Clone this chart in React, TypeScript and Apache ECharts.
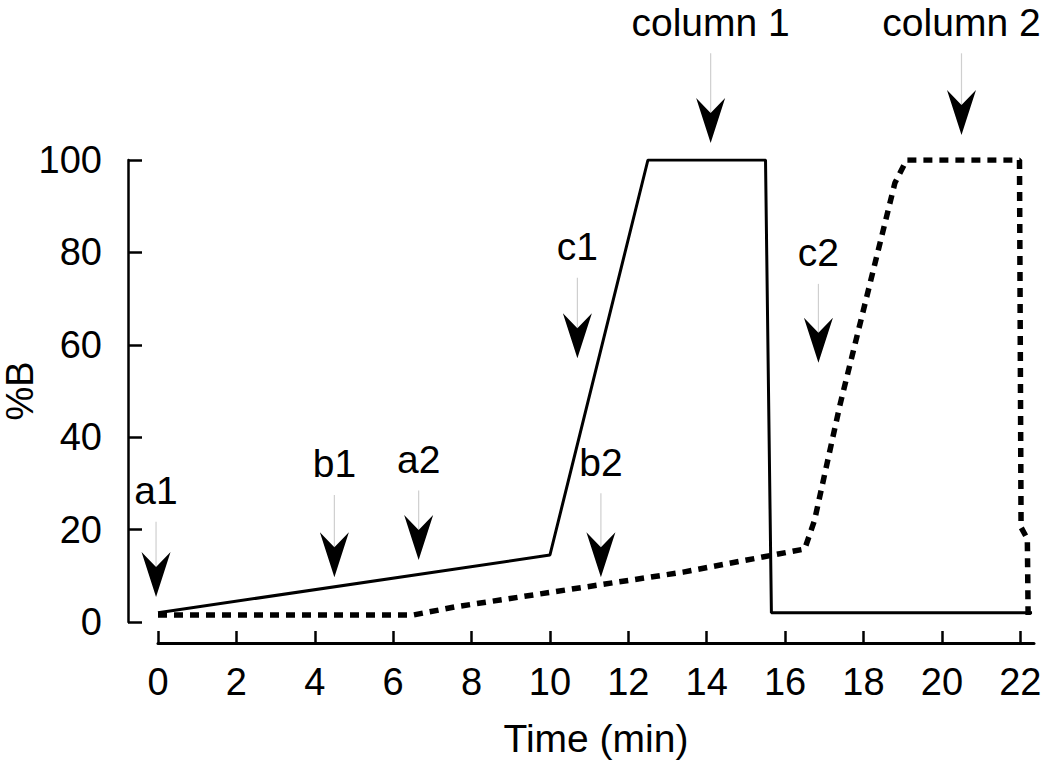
import React, { useEffect, useRef } from "react";
import * as echarts from "echarts";

// Gradient programs (time in min, %B)
const column1Time = [0, 10, 12.5, 15.5, 15.65, 22.3];
const column1B = [2, 14.5, 100, 100, 2, 2];

const column2Time = [0, 6.5, 7.6, 13.4, 16.5, 16.75, 17.4, 18.8, 19.1, 21.98, 22.02, 22.18, 22.2];
const column2B = [1.5, 1.5, 3.3, 10.8, 15.8, 22, 47, 95, 100, 100, 20.5, 18, 1.5];

// Annotations (arrow tip position and label height in data units)
const annotLabels = ["a1", "b1", "a2", "b2", "c1", "c2", "column 1", "column 2"];
const annotTime = [-0.05, 4.5, 6.65, 11.3, 10.7, 16.85, 14.1, 20.5];
const annotTipB = [5.4, 9.7, 13.4, 9.7, 57.1, 56.1, 103.7, 105.4];
const annotLabelB = [28.4, 34.2, 35.2, 34.6, 81.2, 79.9, 129.8, 129.8];

const xTicks = [0, 2, 4, 6, 8, 10, 12, 14, 16, 18, 20, 22];

const FONT = '"Liberation Sans", Arial, sans-serif';

export default function App() {
  const ref = useRef<HTMLDivElement>(null);
  useEffect(() => {
    if (!ref.current) return;
    const chart = echarts.init(ref.current, undefined, { renderer: "svg" });
    const col1 = column1Time.map((t, i) => [t, column1B[i]]);
    const col2 = column2Time.map((t, i) => [t, column2B[i]]);
    const annots = annotTime.map((t, i) => [t, annotTipB[i], annotLabelB[i]]);
    chart.setOption({
      animation: false,
      backgroundColor: "#fff",
      grid: { left: 158, right: 16, top: 160, bottom: 143, containLabel: false, outerBoundsMode: "none" },
      xAxis: {
        type: "value",
        min: 0,
        max: 22.35,
        offset: 21,
        name: "Time (min)",
        nameLocation: "middle",
        nameGap: 76,
        nameTextStyle: { fontSize: 39, fontFamily: FONT, color: "#000" },
        axisLine: { show: true, onZero: false, lineStyle: { color: "#000", width: 3 } },
        axisTick: { show: true, inside: true, length: 12, customValues: xTicks, lineStyle: { color: "#000", width: 2.5 } },
        axisLabel: { customValues: xTicks, margin: 20, fontSize: 38, fontFamily: FONT, color: "#000" },
        splitLine: { show: false },
      },
      yAxis: {
        type: "value",
        min: 0,
        max: 100,
        interval: 20,
        offset: 30,
        name: "%B",
        nameLocation: "middle",
        nameGap: 89,
        nameMoveOverlap: false,
        nameRotate: 90,
        nameTextStyle: { fontSize: 38, fontFamily: FONT, color: "#000" },
        axisLine: { show: true, onZero: false, lineStyle: { color: "#000", width: 2.5 } },
        axisTick: { show: true, inside: true, length: 14, lineStyle: { color: "#000", width: 2.5 } },
        axisLabel: { margin: 26, fontSize: 38, fontFamily: FONT, color: "#000" },
        splitLine: { show: false },
      },
      series: [
        {
          type: "line",
          data: col1,
          showSymbol: false,
          symbol: "none",
          lineStyle: { color: "#000", width: 3 },
          z: 3,
        },
        {
          type: "line",
          data: col2,
          showSymbol: false,
          symbol: "none",
          lineStyle: { color: "#000", width: 5.5, type: [9, 7], cap: "butt" },
          z: 3,
        },
        {
          type: "custom",
          clip: false,
          data: annots,
          z: 5,
          renderItem: (params: any, api: any) => {
            const tip = api.coord([api.value(0), api.value(1)]);
            const lab = api.coord([api.value(0), api.value(2)]);
            const x = tip[0];
            const w = 14.5;
            const h = 45;
            const notch = 30;
            return {
              type: "group",
              children: [
                {
                  type: "line",
                  shape: { x1: x, y1: lab[1] + 31, x2: x, y2: tip[1] - notch },
                  style: { stroke: "#cfcfcf", lineWidth: 1.2 },
                },
                {
                  type: "polygon",
                  shape: {
                    points: [
                      [x - w, tip[1] - h],
                      [x, tip[1] - notch],
                      [x + w, tip[1] - h],
                      [x, tip[1]],
                    ],
                  },
                  style: { fill: "#000" },
                },
                {
                  type: "text",
                  x: lab[0],
                  y: lab[1],
                  style: {
                    text: annotLabels[params.dataIndex],
                    fill: "#000",
                    fontSize: 39,
                    fontFamily: FONT,
                    align: "center",
                    verticalAlign: "middle",
                  },
                },
              ],
            };
          },
        },
      ],
    });
    return () => chart.dispose();
  }, []);
  return (
    <div
      ref={ref}
      style={{ position: "fixed", left: 0, top: 0, width: 1050, height: 765, background: "#fff" }}
    />
  );
}
